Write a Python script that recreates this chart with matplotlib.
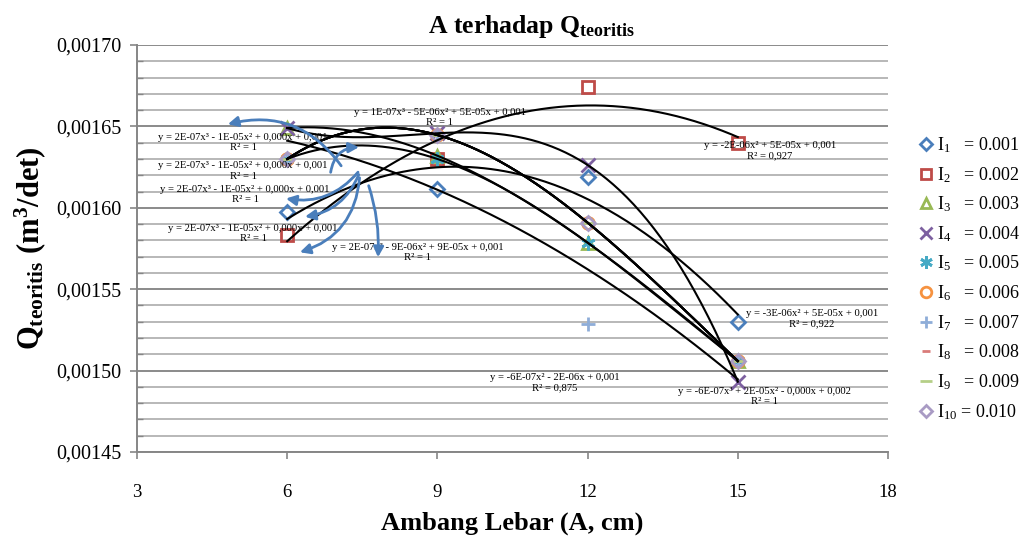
import numpy as np
import matplotlib
matplotlib.use("Agg")
from matplotlib import pyplot as plt
from matplotlib.ticker import FuncFormatter, MultipleLocator
from matplotlib.lines import Line2D

plt.rcParams['font.family'] = ['Liberation Serif', 'DejaVu Serif']
plt.rcParams['mathtext.fontset'] = 'custom'
plt.rcParams['mathtext.rm'] = 'Liberation Serif'
plt.rcParams['mathtext.it'] = 'Liberation Serif:italic'
plt.rcParams['mathtext.bf'] = 'Liberation Serif:bold'

# lebar ambang (cm)
A = [6, 9, 12, 15]

# Q teoritis tiap kemiringan
I1 = [0.0015976, 0.0016115, 0.0016187, 0.00153]
I2 = [0.0015833, 0.00163, 0.0016744, 0.0016396]
I3 = [0.001649, 0.001632, 0.0015786, 0.0015059]
I4 = [0.001649, 0.0016458, 0.0016263, 0.0014932]
I5 = [0.00163, 0.00163, 0.0015786, 0.0015059]
I6 = [0.00163, 0.0016447, 0.0015909, 0.0015059]
I7 = [0.00163, 0.0016447, 0.0015286, 0.0015059]
I8 = [0.00163, 0.0016447, 0.0015909, 0.0015059]
I9 = [0.00163, 0.0016447, 0.0015909, 0.0015059]
I10 = [0.00163, 0.0016447, 0.0015909, 0.0015059]

series = [I1, I2, I3, I4, I5, I6, I7, I8, I9, I10]
labels = [r"I$_{1}$   = 0.001", r"I$_{2}$   = 0.002", r"I$_{3}$   = 0.003",
          r"I$_{4}$   = 0.004", r"I$_{5}$   = 0.005", r"I$_{6}$   = 0.006",
          r"I$_{7}$   = 0.007", r"I$_{8}$   = 0.008", r"I$_{9}$   = 0.009",
          r"I$_{10}$ = 0.010"]
colors = ['#4a7ebb', '#be4b48', '#98b954', '#7d60a0', '#46aac5',
          '#f69240', '#8eadd8', '#d97b79', '#b5cf87', '#a99bc4']
markers = ['D', 's', '^', 'x', (6, 2, 0), 'o', '+', '_', '_', 'D']
msizes = [7, 8.5, 8.5, 10, 10, 8.5, 10, 6, 9, 7]
# orde trendline excel
orders = [2, 2, 3, 3, 3, 3, 2, 3, 3, 3]

# persamaan trendline (teks dari excel)
eq_texts = [
    "y = 1E-07x³ - 5E-06x² + 5E-05x + 0,001\nR² = 1",
    "y = 2E-07x³ - 1E-05x² + 0,000x + 0,001\nR² = 1",
    "y = 2E-07x³ - 1E-05x² + 0,000x + 0,001\nR² = 1",
    "y = 2E-07x³ - 1E-05x² + 0,000x + 0,001\nR² = 1",
    "y = 2E-07x³ - 1E-05x² + 0,000x + 0,001\nR² = 1",
    "y = 2E-07x³ - 9E-06x² + 9E-05x + 0,001\nR² = 1",
    "y = -2E-06x² + 5E-05x + 0,001\nR² = 0,927",
    "y = -3E-06x² + 5E-05x + 0,001\nR² = 0,922",
    "y = -6E-07x² - 2E-06x + 0,001\nR² = 0,875",
    "y = -6E-07x³ + 2E-05x² - 0,000x + 0,002\nR² = 1",
]
eq_x = [9.05, 5.12, 5.12, 5.16, 5.32, 8.61, 15.64, 16.48, 11.35, 15.54]
eq_y = [0.0016555, 0.0016404, 0.0016226, 0.0016079, 0.0015845,
        0.0015726, 0.0016349, 0.0015321, 0.0014924, 0.0014842]

# panah biru (awal, akhir, lengkung)
arrow_start = [(7.11, 0.0016244), (6.86, 0.0016201), (7.45, 0.0016232),
               (7.45, 0.001622), (7.45, 0.0016201), (7.61, 0.0016152)]
arrow_end = [(4.76, 0.0016509), (7.49, 0.0016373), (5.92, 0.001606),
             (6.30, 0.0015943), (6.20, 0.0015722), (7.81, 0.0015679)]
arrow_rad = [0.35, -0.45, -0.3, -0.3, -0.35, -0.1]

fig = plt.figure(figsize=(10.29, 5.4), dpi=100)
ax = fig.add_axes([137/1029, 1 - 452/540, (888-137)/1029, (452-45)/540])

ax.set_xlim(3, 18)
ax.set_ylim(0.00145, 0.00170)
ax.xaxis.set_major_locator(MultipleLocator(3))
ax.yaxis.set_major_locator(MultipleLocator(0.00005))
ax.yaxis.set_minor_locator(MultipleLocator(0.00001))
ax.yaxis.set_major_formatter(FuncFormatter(lambda v, p: f"{v:.5f}".replace('.', ',')))

ax.grid(True, axis='y', which='minor', color='#b8b8b8', lw=1.4, zorder=0)
ax.grid(True, axis='y', which='major', color='#8a8a8a', lw=1.4, zorder=0)

for sp in ['top', 'right']:
    ax.spines[sp].set_visible(False)
for sp in ['left', 'bottom']:
    ax.spines[sp].set_color('#868686')
    ax.spines[sp].set_linewidth(1.4)
ax.tick_params(axis='both', which='major', color='#868686', width=1.2, length=5, pad=6)
ax.tick_params(axis='y', which='major', labelsize=14.5)
ax.tick_params(axis='x', labelsize=13.5, pad=18)
ax.tick_params(axis='y', which='minor', direction='in', color='#868686', length=4, width=1)

xx = np.linspace(6, 15, 200)
for y, c, m, ms, o in zip(series, colors, markers, msizes, orders):
    mfc = 'none' if m not in ['x', '+', '_', (6, 2, 0)] else c
    ax.plot(A, y, ls='none', marker=m, ms=ms, mec=c, mfc=mfc, mew=2, zorder=3)
    coef = np.polyfit(A, y, o)
    ax.plot(xx, np.polyval(coef, xx), color='black', lw=1.5, zorder=4)

for t, tx, ty in zip(eq_texts, eq_x, eq_y):
    ax.text(tx, ty, t, fontsize=7.7, ha='center', va='center', linespacing=1.15, zorder=5)

for s, e, r in zip(arrow_start, arrow_end, arrow_rad):
    ax.annotate("", xy=e, xytext=s,
                arrowprops=dict(arrowstyle='-|>,head_length=0.6,head_width=0.3',
                                color='#4a7ebb', lw=2,
                                connectionstyle=f"arc3,rad={r}"), zorder=6)

ax.set_title(r"A terhadap Q$_{\mathbf{teoritis}}$", fontsize=18.5, fontweight='bold',
             pad=9, x=0.525)
ax.set_xlabel("Ambang Lebar (A, cm)", fontsize=19, fontweight='bold', labelpad=8)
ax.set_ylabel(r"Q$_{\mathbf{teoritis}}$ (m$^{\mathbf{3}}$/det)", fontsize=22,
              fontweight='bold', labelpad=6)

handles = []
for c, m, ms in zip(colors, markers, msizes):
    mfc = 'none' if m not in ['x', '+', '_', (6, 2, 0)] else c
    handles.append(Line2D([], [], ls='none', marker=m, ms=ms * 0.9, mec=c, mfc=mfc, mew=2))
fig.legend(handles, labels, loc='upper left', bbox_to_anchor=(912/1029, 1 - 128/540),
           frameon=False, fontsize=13, handlelength=0.8, handletextpad=0.2,
           labelspacing=0.55, borderaxespad=0)

fig.savefig("out.png", dpi=100)
